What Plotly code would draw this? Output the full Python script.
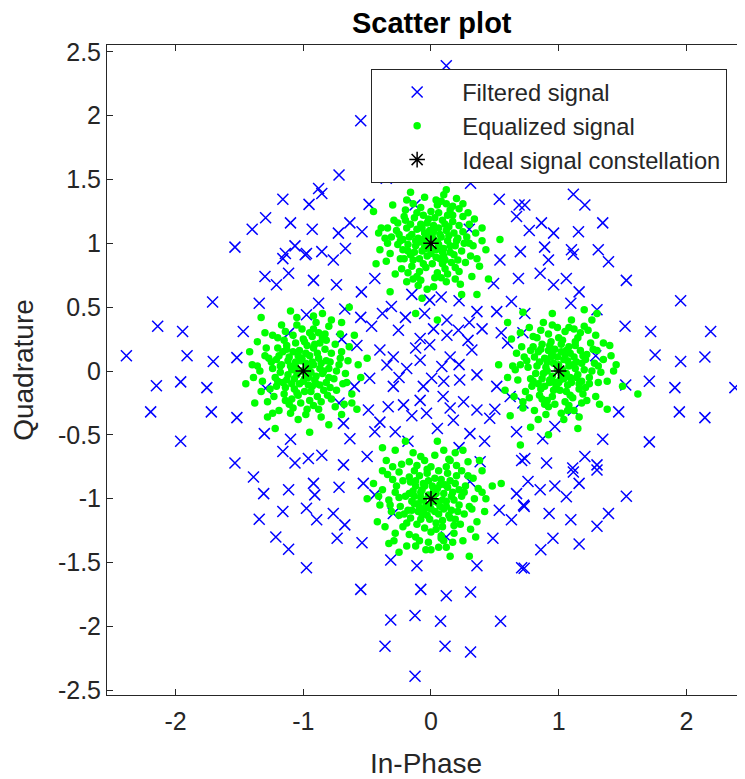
import plotly.graph_objects as go

# ---------------- data ----------------
filtered_pts = [
    # top / upper area
    (0.12, 2.39), (-0.55, 1.96), (-0.72, 1.535), (-0.35, 1.51), (0.11, 1.515), (0.31, 1.47),
    (-0.855, 1.39), (-0.485, 1.305), (-0.125, 1.30), (0.535, 1.345), (0.69, 1.30), (0.67, 1.21),
    (-0.635, 1.16), (-0.725, 1.08), (-0.54, 1.09), (-0.67, 0.96), (-0.855, 0.935), (0.30, 1.11),
    (0.70, 0.935),
    # upper right
    (0.97, 1.53), (1.115, 1.385), (1.205, 1.30), (0.735, 1.30), (1.345, 1.16), (0.865, 1.16),
    (0.96, 1.08), (0.77, 1.10), (1.155, 1.09), (0.89, 0.97), (1.10, 0.95), (1.31, 0.95),
    # upper left
    (-1.16, 1.345), (-0.955, 1.305), (-0.88, 1.43), (-1.295, 1.20), (-1.40, 1.11), (-1.10, 1.16),
    (-0.93, 1.11), (-1.535, 0.97), (-1.065, 0.98), (-1.14, 0.92), (-0.975, 0.92),
    # left
    (-1.16, 0.88), (-0.985, 0.91), (-1.30, 0.74), (-1.115, 0.765), (-1.21, 0.675), (-0.92, 0.71),
    (-1.71, 0.54), (-1.345, 0.53), (-0.975, 0.44), (-2.14, 0.35), (-1.945, 0.31), (-1.47, 0.31),
    (-1.115, 0.295), (-2.385, 0.12), (-1.91, 0.12), (-1.705, 0.075), (-1.52, 0.105), (-2.15, -0.115),
    (-1.96, -0.085), (-1.755, -0.13), (-1.295, -0.135), (-2.195, -0.32), (-1.72, -0.32), (-1.52, -0.365),
    (-1.96, -0.55), (-1.305, -0.49), (-1.10, -0.535), (-1.16, -0.63), (-1.065, -0.72), (-0.96, -0.685),
    (-1.535, -0.72), (-1.39, -0.83),
    # right
    (0.92, 0.87), (1.115, 0.915), (1.39, 0.855), (0.855, 0.765), (0.96, 0.675), (1.06, 0.725),
    (1.16, 0.62), (1.53, 0.71), (1.095, 0.53), (1.30, 0.48), (0.735, 0.45), (1.955, 0.55),
    (1.52, 0.35), (1.72, 0.31), (2.19, 0.31), (1.29, 0.12), (1.755, 0.125), (1.955, 0.075),
    (2.145, 0.11), (1.525, -0.11), (1.71, -0.08), (1.91, -0.13), (2.38, -0.13), (1.115, -0.305),
    (1.47, -0.32), (1.945, -0.32), (2.145, -0.365), (0.97, -0.435), (0.875, -0.53), (1.345, -0.535),
    (1.71, -0.555), (0.735, -0.685), (0.905, -0.72), (1.11, -0.76), (1.205, -0.67), (1.30, -0.735),
    # lower left
    (-1.31, -0.96), (-1.115, -0.93), (-0.92, -0.88), (-0.91, -0.97), (-1.345, -1.16), (-1.16, -1.10),
    (-0.975, -1.075), (-0.895, -1.165), (-1.215, -1.30), (-1.115, -1.395), (-0.975, -1.54),
    # lower middle
    (-0.72, -0.91), (-0.53, -0.88), (-0.44, -0.97), (-0.765, -1.115), (-0.675, -1.205), (-0.735, -1.31),
    (-0.54, -1.345), (-0.295, -1.115), (0.12, -1.30), (0.305, -0.865), (0.485, -1.31), (0.535, -1.09),
    (0.63, -1.165), (0.67, -0.96), (0.725, -1.05), (-0.315, -1.48), (-0.11, -1.525), (0.36, -1.525),
    (0.71, -1.54), (-0.55, -1.71), (-0.08, -1.71), (0.12, -1.76), (0.31, -1.73), (-0.315, -1.95),
    (-0.125, -1.915), (0.075, -1.96), (0.545, -1.96), (-0.36, -2.155), (0.11, -2.155), (0.31, -2.20),
    (-0.125, -2.39),
    # lower right
    (0.76, -0.865), (0.855, -0.93), (0.97, -0.90), (1.06, -0.985), (1.16, -0.88), (1.115, -0.79),
    (1.30, -0.775), (1.53, -0.98), (0.73, -1.06), (0.925, -1.115), (1.095, -1.165), (1.39, -1.115),
    (1.30, -1.215), (0.955, -1.31), (0.86, -1.40), (1.16, -1.355), (0.73, -1.545),
    # centre
    (-0.765, 0.87), (-0.74, 0.675), (-0.545, 0.62), (-0.44, 0.725), (-0.88, 0.53), (-0.675, 0.485),
    (-0.31, 0.505), (-0.01, 0.555), (0.36, 0.465), (0.54, 0.87), (0.685, 0.725), (0.49, 0.685),
    (0.63, 0.545), (-0.465, 0.35), (-0.255, 0.32), (0.125, 0.40), (0.215, 0.32), (-0.40, 0.165),
    (-0.295, 0.11), (-0.085, 0.255), (-0.01, 0.205), (0.125, 0.28), (0.29, 0.24), (0.32, 0.165),
    (-0.48, -0.057), (-0.345, 0.047), (-0.19, 0.02), (-0.085, 0.085), (0.085, 0.035), (0.15, 0.11),
    (0.225, -0.07), (0.36, -0.03), (0.515, -0.12), (-0.295, -0.12), (-0.06, -0.12), (0.005, -0.057),
    (0.095, -0.20), (-0.085, -0.23), (0.255, -0.24), (-0.335, -0.28), (-0.49, -0.305), (-0.215, -0.265),
    (-0.035, -0.33), (0.15, -0.29), (0.36, -0.305), (0.175, -0.385), (0.46, -0.37), (-0.685, -0.41),
    (-0.635, -0.53), (-0.44, -0.475), (-0.28, -0.475), (0.305, -0.49), (0.67, -0.475), (-0.50, -0.67),
    (-0.685, -0.735), (-0.855, -0.66), (0.385, -0.71), (0.71, -0.70), (0.515, 0.465),
    (-0.20, 0.42), (0.02, 0.33), (0.22, 0.55), (-0.15, 0.60), (0.40, 0.33), (-0.58, 0.20),
    (-0.60, -0.12), (0.60, 0.22), (0.62, -0.20), (0.05, -0.45), (-0.18, -0.55), (0.22, -0.60),
    (-0.38, 0.45), (0.42, -0.55), (-0.12, 0.18), (0.22, 0.05), (-0.25, -0.05), (0.10, -0.08),
    (-0.15, -0.35), (0.30, 0.38), (-0.40, -0.40), (0.55, 0.30), (-0.55, 0.42), (0.50, -0.30),
    (-0.05, 0.45), (0.08, 0.58), (-0.70, 0.25), (0.72, -0.25), (-0.72, -0.25), (0.72, 0.30),
]

eq_top = [
    (0.02, 1.03), (-0.05, 1.08), (0.10, 0.96), (-0.12, 0.98), (0.06, 1.12), (-0.03, 0.90), (0.14, 1.06), (-0.08, 1.15), (0.01, 0.84), (0.18, 0.91),
    (-0.17, 1.05), (0.09, 1.18), (-0.14, 0.87), (0.04, 0.95), (-0.02, 1.00), (0.12, 1.10), (-0.07, 0.94), (0.16, 0.85), (-0.19, 1.12), (0.07, 0.88),
    (-0.10, 1.04), (0.03, 1.20), (-0.04, 0.81), (0.20, 1.02), (-0.22, 0.95), (0.11, 0.80), (-0.13, 1.20), (0.22, 1.14), (-0.01, 1.10), (0.08, 1.05),
    (-0.06, 1.22), (0.15, 0.98), (-0.16, 0.91), (0.05, 0.77), (-0.24, 1.02), (0.13, 1.22), (-0.09, 0.78), (0.24, 0.94), (-0.20, 1.18), (0.00, 0.92),
    (0.06, 0.99), (-0.11, 1.11), (0.17, 1.17), (-0.03, 1.16), (0.10, 0.90), (-0.15, 0.82), (0.19, 0.81), (-0.05, 0.97), (0.02, 1.14), (-0.18, 0.99),
    (0.28, 1.05), (-0.27, 1.10), (0.05, 1.30), (-0.08, 0.71), (0.22, 0.78), (-0.23, 0.80), (0.25, 1.21), (-0.20, 1.26), (0.31, 0.90), (-0.32, 0.92),
    (0.12, 0.70), (-0.14, 1.31), (0.17, 1.29), (-0.29, 1.18), (0.30, 1.15), (-0.10, 0.67), (0.02, 0.66), (0.33, 0.98), (-0.34, 1.00), (0.08, 1.33),
    (-0.16, 1.40), (0.25, 1.31), (0.54, 1.03), (-0.39, 1.12), (-0.43, 0.84), (0.38, 0.82), (-0.32, 0.62), (-0.07, 0.57), (0.24, 0.60), (0.40, 1.12),
    (0.45, 0.72), (-0.45, 1.25), (0.05, 0.40), (-0.12, 0.45), (0.36, 0.60), (0.12, 1.42),
    (0.07, 1.07), (-0.09, 1.01), (0.13, 1.02), (-0.02, 1.06), (0.04, 0.89), (-0.13, 0.93), (0.09, 0.93), (-0.06, 1.03), (0.18, 1.08), (-0.16, 1.15),
    (0.00, 1.25), (-0.21, 0.88), (0.21, 0.87), (0.15, 1.26), (-0.25, 1.07), (0.26, 1.00), (-0.11, 0.74), (0.08, 0.73), (0.29, 1.24), (-0.28, 0.76),
    (0.35, 1.08), (-0.36, 1.04), (0.20, 1.35), (-0.05, 1.36), (0.32, 0.74), (-0.19, 0.70), (0.43, 0.95), (-0.40, 0.95), (0.10, 1.38), (-0.30, 1.30),
    (0.01, 1.05), (-0.04, 0.96), (0.11, 1.15), (-0.15, 1.07), (0.15, 0.93), (-0.09, 0.88), (0.05, 1.01), (-0.02, 1.19), (0.21, 1.04), (-0.22, 1.03),
    (0.09, 0.84), (-0.06, 0.84), (0.25, 1.09), (-0.26, 0.99), (0.17, 1.22), (-0.11, 1.24), (0.03, 0.73), (-0.18, 0.77), (0.27, 0.85), (-0.26, 1.16),
    (0.13, 0.76), (0.06, 1.24), (-0.08, 1.28), (0.22, 1.27), (-0.24, 0.88), (0.30, 1.00), (-0.31, 1.05), (0.04, 1.34), (-0.14, 0.72), (0.19, 0.72),
    (0.34, 1.19), (-0.34, 1.12), (0.36, 0.88), (-0.35, 0.86), (0.12, 1.31), (-0.19, 1.34), (0.23, 0.68), (-0.03, 0.64), (0.40, 1.02), (-0.41, 1.08),
    (0.07, 0.96), (-0.12, 1.02), (0.14, 1.13), (-0.07, 1.12), (0.11, 0.87), (-0.18, 0.94), (0.02, 1.09), (-0.01, 0.97), (0.19, 0.98), (-0.21, 1.21),
]

eq_left = [
    (-0.98, 0.02), (-1.06, 0.07), (-0.90, -0.04), (-1.12, -0.03), (-0.95, 0.12), (-1.03, -0.10), (-0.86, 0.06), (-1.08, 0.15), (-0.99, -0.16), (-0.82, -0.09),
    (-1.17, 0.05), (-0.92, 0.18), (-1.14, -0.13), (-0.96, -0.05), (-1.01, 0.00), (-0.88, 0.10), (-1.07, -0.06), (-0.84, -0.15), (-1.19, 0.12), (-0.93, -0.12),
    (-1.10, 0.04), (-0.97, 0.20), (-1.04, -0.19), (-0.80, 0.02), (-1.22, -0.05), (-0.89, -0.20), (-1.13, 0.20), (-0.78, 0.14), (-1.01, 0.10), (-0.92, 0.05),
    (-1.06, 0.22), (-0.85, -0.02), (-1.16, -0.09), (-0.95, -0.23), (-1.24, 0.02), (-0.87, 0.22), (-1.09, -0.22), (-0.76, -0.06), (-1.20, 0.18), (-1.00, -0.08),
    (-0.94, -0.01), (-1.11, 0.11), (-0.83, 0.17), (-1.03, 0.16), (-0.90, -0.10), (-1.15, -0.18), (-0.81, -0.19), (-1.05, -0.03), (-0.98, 0.14), (-1.18, -0.01),
    (-0.72, 0.05), (-1.27, 0.10), (-0.95, 0.30), (-1.08, -0.29), (-0.78, -0.22), (-1.23, -0.20), (-0.75, 0.21), (-1.20, 0.26), (-0.69, -0.10), (-1.32, -0.08),
    (-0.88, -0.30), (-1.14, 0.31), (-0.83, 0.29), (-1.29, 0.18), (-0.70, 0.15), (-1.10, -0.33), (-0.98, -0.34), (-0.67, -0.02), (-1.34, 0.00), (-0.92, 0.33),
    (-1.33, 0.42), (-0.60, 0.28), (-0.50, 0.10), (-1.38, -0.25), (-1.28, -0.36), (-0.58, -0.30), (-0.80, -0.42), (-1.10, 0.47), (-0.85, 0.45), (-1.42, 0.15),
    (-0.62, -0.18), (-1.22, -0.45), (-0.70, 0.38), (-0.55, -0.05), (-1.45, -0.10), (-0.95, -0.48), (-1.05, 0.42), (-0.64, 0.50),
    (-0.93, 0.07), (-1.09, 0.01), (-0.87, 0.02), (-0.98, 0.06), (-0.96, -0.11), (-1.13, -0.07), (-0.91, -0.07), (-1.06, 0.03), (-0.82, 0.08), (-1.16, 0.15),
    (-1.00, 0.25), (-1.21, -0.12), (-0.79, -0.13), (-0.85, 0.26), (-1.25, 0.07), (-0.74, 0.00), (-1.11, -0.26), (-0.92, -0.27), (-0.71, 0.29), (-1.28, -0.24),
    (-0.65, 0.08), (-1.36, 0.04), (-0.80, 0.35), (-1.05, 0.36), (-0.68, -0.26), (-1.19, -0.31), (-0.57, 0.05), (-1.40, 0.05), (-0.90, 0.38), (-1.30, 0.30),
    (-0.97, -0.02), (-1.04, 0.12), (-0.89, 0.14), (-1.12, 0.08), (-0.94, -0.16), (-1.07, -0.14), (-0.84, 0.00), (-1.18, 0.04), (-1.02, -0.25), (-0.99, 0.23),
    (-0.79, 0.07), (-1.21, 0.09), (-0.86, -0.24), (-1.14, -0.23), (-0.82, 0.24), (-1.15, 0.24), (-0.74, -0.15), (-1.26, -0.14), (-0.93, 0.27), (-1.08, 0.28),
    (-0.71, 0.10), (-1.30, 0.12), (-0.75, -0.28), (-1.24, 0.28), (-0.97, -0.30), (-0.66, -0.09), (-1.33, -0.16), (-0.88, 0.30), (-1.01, 0.33), (-0.64, 0.19),
    (-1.36, 0.23), (-0.70, -0.34), (-1.17, 0.36), (-0.86, -0.36), (-1.04, -0.38), (-0.62, -0.25), (-1.39, -0.05), (-0.78, 0.40), (-0.92, 0.43), (-1.24, -0.33),
    (-0.95, 0.04), (-1.02, 0.08), (-1.09, -0.10), (-0.87, -0.11), (-0.99, -0.06), (-1.13, 0.17), (-0.91, 0.21), (-1.05, -0.17), (-0.80, -0.05), (-1.20, -0.08),
]

eq_right = [
    (1.03, 0.01), (0.96, 0.06), (1.09, -0.05), (0.88, -0.02), (1.05, 0.13), (0.97, -0.09), (1.14, 0.07), (0.92, 0.16), (1.01, -0.15), (1.18, -0.08),
    (0.83, 0.04), (1.08, 0.19), (0.86, -0.14), (1.04, -0.06), (0.99, 0.01), (1.12, 0.11), (0.93, -0.07), (1.16, -0.14), (0.81, 0.11), (1.07, -0.11),
    (0.90, 0.03), (1.02, 0.21), (0.95, -0.20), (1.20, 0.01), (0.78, -0.06), (1.11, -0.21), (0.87, 0.21), (1.22, 0.13), (0.99, 0.11), (1.08, 0.04),
    (0.94, 0.23), (1.15, -0.03), (0.84, -0.10), (1.05, -0.24), (0.76, 0.03), (1.13, 0.23), (0.91, -0.23), (1.24, -0.05), (0.80, 0.19), (1.00, -0.09),
    (1.06, -0.02), (0.89, 0.10), (1.17, 0.16), (0.97, 0.17), (1.10, -0.09), (0.85, -0.19), (1.19, -0.18), (0.95, -0.04), (1.02, 0.15), (0.82, -0.02),
    (1.28, 0.06), (0.73, 0.11), (1.05, 0.31), (0.92, -0.28), (1.22, -0.23), (0.77, -0.21), (1.25, 0.22), (0.80, 0.27), (1.31, -0.09), (0.68, -0.07),
    (1.12, -0.31), (0.86, 0.32), (1.17, 0.30), (0.71, 0.19), (1.30, 0.16), (0.90, -0.34), (1.02, -0.33), (1.33, -0.01), (0.66, 0.01), (1.08, 0.34),
    (0.60, 0.38), (1.26, 0.40), (0.53, 0.05), (1.40, 0.20), (0.62, -0.35), (1.38, -0.30), (0.78, -0.44), (1.15, -0.45), (0.95, 0.45), (1.45, 0.05),
    (0.58, -0.15), (1.30, 0.45), (0.72, 0.46), (1.50, -0.12), (0.92, -0.50), (1.20, 0.48), (0.70, -0.58), (1.62, -0.18),
    (1.07, 0.08), (0.91, 0.00), (1.13, 0.02), (0.98, -0.12), (1.04, 0.09), (0.87, -0.06), (1.09, 0.14), (0.94, 0.11), (1.18, 0.06), (0.84, 0.15),
    (1.00, 0.26), (0.79, -0.12), (1.21, -0.13), (1.15, 0.26), (0.75, 0.08), (1.26, 0.00), (0.89, -0.26), (1.08, -0.27), (1.29, 0.28), (0.72, -0.24),
    (1.35, 0.09), (0.64, 0.04), (1.20, 0.35), (0.95, 0.36), (1.32, -0.26), (0.81, -0.31), (1.43, 0.00), (0.60, -0.05), (1.10, 0.40), (0.70, 0.30),
    (1.02, -0.03), (0.95, 0.13), (1.11, 0.05), (0.89, -0.12), (1.06, -0.16), (0.93, 0.20), (1.16, -0.10), (0.85, 0.07), (1.03, 0.24), (0.97, -0.26),
    (1.21, 0.09), (0.80, -0.08), (1.13, 0.20), (0.87, -0.22), (1.24, -0.10), (0.78, 0.16), (1.07, -0.31), (0.92, 0.29), (1.27, 0.17), (0.74, -0.16),
    (1.18, -0.25), (0.83, 0.26), (1.31, 0.04), (0.70, 0.05), (1.12, 0.33), (0.99, 0.34), (1.29, -0.20), (0.72, -0.29), (1.35, 0.22), (0.67, 0.14),
    (1.04, -0.38), (0.88, 0.38), (1.38, -0.08), (0.65, -0.20), (1.23, 0.32), (1.16, -0.36), (0.77, 0.34), (1.41, 0.12), (0.84, -0.38), (0.63, 0.25),
    (1.00, 0.05), (1.06, 0.16), (0.91, 0.07), (1.14, -0.05), (0.96, -0.15), (1.09, -0.19), (0.86, 0.17), (1.19, 0.12), (1.01, -0.07), (0.93, -0.09),
]

eq_bottom = [
    (-0.02, -0.97), (0.05, -0.92), (-0.10, -1.04), (0.12, -1.02), (-0.06, -0.88), (0.03, -1.10), (-0.14, -0.94), (0.08, -0.85), (-0.01, -1.16), (-0.18, -1.09),
    (0.17, -0.95), (-0.09, -0.82), (0.14, -1.13), (-0.04, -1.05), (0.02, -1.00), (-0.12, -0.90), (0.07, -1.06), (-0.16, -1.15), (0.19, -0.88), (-0.07, -1.12),
    (0.10, -0.96), (-0.03, -0.80), (0.04, -1.19), (-0.20, -0.98), (0.22, -1.05), (-0.11, -1.20), (0.13, -0.80), (-0.22, -0.86), (0.01, -0.90), (-0.08, -0.95),
    (0.06, -0.78), (-0.15, -1.02), (0.16, -1.09), (-0.05, -1.23), (0.24, -0.98), (-0.13, -0.78), (0.09, -1.22), (-0.24, -1.06), (0.20, -0.82), (0.00, -1.08),
    (-0.06, -1.01), (0.11, -0.89), (-0.17, -0.83), (0.03, -0.84), (-0.10, -1.10), (0.15, -1.15), (-0.19, -1.19), (0.05, -1.03), (-0.02, -0.86), (0.18, -1.01),
    (-0.28, -0.95), (0.27, -0.90), (-0.05, -0.70), (0.08, -1.29), (-0.22, -1.22), (0.23, -1.20), (-0.25, -0.79), (0.20, -0.74), (-0.31, -1.10), (0.32, -1.08),
    (-0.12, -1.30), (0.14, -0.69), (-0.17, -0.71), (0.29, -0.82), (-0.30, -0.85), (0.10, -1.33), (-0.02, -1.34), (-0.33, -1.01), (0.34, -1.00), (-0.08, -0.67),
    (-0.38, -0.60), (0.25, -0.62), (-0.45, -0.88), (0.40, -0.78), (-0.33, -1.35), (0.35, -1.30), (0.00, -1.40), (-0.25, -1.42), (0.42, -1.10), (-0.42, -1.18),
    (0.15, -1.45), (-0.50, -1.00), (0.48, -0.90), (-0.20, -0.55), (0.05, -0.55), (0.30, -1.45), (-0.35, -0.70), (0.55, -0.88),
    (-0.07, -0.93), (0.09, -1.01), (-0.13, -0.98), (0.02, -0.94), (0.06, -1.12), (-0.09, -1.07), (0.13, -0.91), (-0.03, -1.13), (0.19, -1.16), (-0.16, -0.87),
    (0.00, -0.75), (-0.25, -1.13), (0.26, -1.12), (0.22, -0.93), (-0.25, -0.99), (0.00, -1.26), (-0.17, -1.28), (0.18, -1.27), (0.29, -0.71), (-0.28, -1.27),
    (0.37, -0.92), (-0.38, -0.93), (0.12, -1.38), (-0.12, -1.37), (0.31, -1.24), (-0.30, -0.75), (0.43, -1.00), (-0.40, -1.05), (0.10, -0.62), (-0.28, -0.62),
    (0.01, -1.02), (-0.05, -0.90), (0.10, -1.08), (-0.13, -1.04), (0.07, -0.89), (-0.08, -1.16), (0.16, -0.98), (-0.17, -0.96), (0.04, -1.24), (-0.03, -0.77),
    (0.21, -1.10), (-0.21, -1.12), (0.12, -0.75), (-0.11, -0.74), (0.26, -0.95), (-0.27, -0.90), (0.08, -1.31), (-0.09, -1.33), (0.24, -0.78), (-0.23, -0.73),
    (0.30, -1.06), (-0.32, -1.05), (0.17, -1.34), (-0.19, -1.37), (0.33, -0.84), (-0.34, -0.81), (0.03, -0.66), (-0.14, -0.64), (0.36, -1.18), (-0.36, -1.22),
    (0.19, -0.64), (-0.04, -1.40), (0.25, -1.33), (-0.29, -1.33), (0.40, -0.95), (-0.41, -0.98), (0.15, -0.70), (0.06, -1.38), (-0.38, -0.78), (0.38, -0.70),
    (-0.01, -1.05), (0.04, -0.96), (-0.08, -0.99), (0.12, -1.06), (-0.12, -0.86), (0.09, -1.17), (-0.15, -1.09), (0.15, -0.86), (-0.05, -1.08), (0.18, -1.21),
]

ideal_x = [-1, 0, 1, 0]
ideal_y = [0, 1, 0, -1]

x_ticks = [-2, -1, 0, 1, 2]
y_ticks = [-2.5, -2, -1.5, -1, -0.5, 0, 0.5, 1, 1.5, 2, 2.5]
y_tick_text = ["-2.5", "-2", "-1.5", "-1", "-0.5", "0", "0.5", "1", "1.5", "2", "2.5"]

# ---------------- figure ----------------
FONT = "Liberation Sans, Arial, Helvetica, sans-serif"
AX = "#262626"

eq_all = eq_top + eq_left + eq_right + eq_bottom

fig = go.Figure()
fig.add_trace(go.Scatter(
    x=[p[0] for p in filtered_pts], y=[p[1] for p in filtered_pts],
    mode="markers", name="Filtered signal",
    marker=dict(symbol="x-thin", size=11, color="rgb(0,0,255)",
                line=dict(width=1.5, color="rgb(0,0,255)")),
))
fig.add_trace(go.Scatter(
    x=[p[0] for p in eq_all], y=[p[1] for p in eq_all],
    mode="markers", name="Equalized signal",
    marker=dict(symbol="circle", size=7.5, color="rgb(0,255,0)", line=dict(width=0)),
))
fig.add_trace(go.Scatter(
    x=ideal_x, y=ideal_y, mode="markers", name="Ideal signal constellation",
    marker=dict(symbol="asterisk-open", size=13, color="black",
                line=dict(width=1.5, color="black")),
))

# the page body has an 8px margin, so the figure is 8px smaller on each
# leading side and margins are reduced accordingly
fig.update_layout(
    width=737, height=771,
    margin=dict(l=99, r=0, t=37, b=84),
    paper_bgcolor="white", plot_bgcolor="white",
    font=dict(family=FONT, color=AX),
    title=dict(text="<b>Scatter plot</b>", x=0.509, xref="paper", xanchor="center",
               y=0.981, yref="container", yanchor="middle",
               font=dict(size=29, color="black", family=FONT)),
    showlegend=True,
    legend=dict(x=0.414, y=0.963, xanchor="left", yanchor="top",
                bgcolor="white", bordercolor=AX, borderwidth=1,
                font=dict(size=23.7, color=AX, family=FONT),
                itemwidth=80, tracegroupgap=0),
)
fig.update_xaxes(
    range=[-2.537, 2.459], tickvals=x_ticks, ticktext=[str(v) for v in x_ticks],
    ticks="inside", ticklen=6, tickwidth=1, tickcolor=AX,
    showline=True, linecolor=AX, linewidth=1, mirror="ticks",
    showgrid=False, zeroline=False, automargin=False,
    tickfont=dict(size=25, color=AX, family=FONT), ticklabelstandoff=4,
    title=dict(text="In-Phase", font=dict(size=28, color=AX, family=FONT), standoff=22),
)
fig.update_yaxes(
    range=[-2.537, 2.553], tickvals=y_ticks, ticktext=y_tick_text,
    ticks="inside", ticklen=6, tickwidth=1, tickcolor=AX,
    showline=True, linecolor=AX, linewidth=1, mirror=False,
    showgrid=False, zeroline=False, automargin=False,
    tickfont=dict(size=25, color=AX, family=FONT),
    title=dict(text="Quadrature", font=dict(size=28, color=AX, family=FONT), standoff=17),
)

fig.write_html("out.html")
